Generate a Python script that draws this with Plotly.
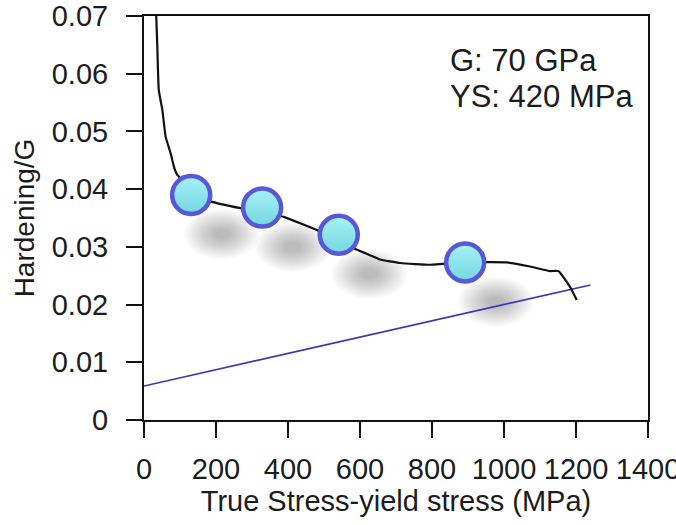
import plotly.graph_objects as go

# ---- data ----
stress = [34, 37, 41, 51, 60, 74, 83, 92, 97, 131, 189, 268, 328, 388, 480, 541,
          592, 638, 656, 712, 795, 892, 1008, 1072, 1128, 1151, 1183, 1202]
hardening = [0.0700, 0.0647, 0.0572, 0.0537, 0.0491, 0.0462, 0.0439, 0.0425, 0.0422,
             0.0395, 0.0378, 0.0367, 0.0360, 0.0352, 0.0329, 0.0310,
             0.0295, 0.0283, 0.0278, 0.0272, 0.0269, 0.0273, 0.0273, 0.0266,
             0.0258, 0.0258, 0.0231, 0.0208]

marker_x = [131, 328, 541, 892]
marker_y = [0.0390, 0.0368, 0.0321, 0.0273]

line_x = [0, 1240]
line_y = [0.0059, 0.0234]

x_ticks = [0, 200, 400, 600, 800, 1000, 1200, 1400]
x_ticktext = ["0", "200", "400", "600", "800", "1000", "1200", "1400"]
y_ticks = [0, 0.01, 0.02, 0.03, 0.04, 0.05, 0.06, 0.07]
y_ticktext = ["0", "0.01", "0.02", "0.03", "0.04", "0.05", "0.06", "0.07"]

note_lines = ["G: 70 GPa", "YS: 420 MPa"]

FONT = "Liberation Sans, Arial, sans-serif"
TXT = "#1c1c1c"

fig = go.Figure()

# soft drop shadows under the markers (stacked translucent ellipses)
shadow_dx, shadow_dy = 85, -0.0068
n_layers = 12
for cx, cy in zip(marker_x, marker_y):
    sx, sy = cx + shadow_dx, cy + shadow_dy
    for i in range(n_layers):
        scale = 1.0 - i * (0.85 / n_layers)
        hw = 105 * scale
        hh = 0.0043 * scale
        fig.add_shape(type="circle", xref="x", yref="y",
                      x0=sx - hw, x1=sx + hw, y0=sy - hh, y1=sy + hh,
                      fillcolor="black", opacity=0.024, line=dict(width=0),
                      layer="below")

fig.add_trace(go.Scatter(x=line_x, y=line_y, mode="lines",
                         line=dict(color="#3b36b8", width=1.6),
                         showlegend=False, hoverinfo="skip"))

fig.add_trace(go.Scatter(x=stress, y=hardening, mode="lines",
                         line=dict(color="#111111", width=2.2, shape="spline", smoothing=0.4),
                         showlegend=False))

fig.add_trace(go.Scatter(x=marker_x, y=marker_y, mode="markers",
                         marker=dict(size=38, color="#a6f3f7",
                                     gradient=dict(type="vertical", color="#74d6df"),
                                     line=dict(color="#5757dc", width=4.5)),
                         showlegend=False))

# note text, one annotation per line (paper coordinates)
note_y = [0.889, 0.801]
for txt, yy in zip(note_lines, note_y):
    fig.add_annotation(xref="paper", yref="paper", x=0.6035, y=yy,
                       xanchor="left", yanchor="middle", align="left", showarrow=False,
                       text=txt, font=dict(family=FONT, size=31, color=TXT))

axis_common = dict(showline=True, linecolor="#111111", linewidth=2,
                   mirror=True, ticks="outside", ticklen=16, tickwidth=2,
                   tickcolor="#111111", showgrid=False, zeroline=False,
                   ticklabeloverflow="allow",
                   tickfont=dict(family=FONT, size=29, color=TXT))

fig.update_xaxes(range=[0, 1400], tickvals=x_ticks, ticktext=x_ticktext,
                 ticklabelstandoff=6,
                 title=dict(text="True Stress-yield stress (MPa)",
                            font=dict(family=FONT, size=29, color=TXT), standoff=0),
                 **axis_common)
fig.update_yaxes(range=[0, 0.07], tickvals=y_ticks, ticktext=y_ticktext,
                 ticklabelstandoff=12,
                 title=dict(text="Hardening/G",
                            font=dict(family=FONT, size=28, color=TXT), standoff=9),
                 **axis_common)

fig.update_layout(width=676, height=525,
                  margin=dict(l=144, r=28, t=16, b=105, autoexpand=False),
                  paper_bgcolor="white", plot_bgcolor="white",
                  font=dict(family=FONT, color=TXT))

fig.write_html("out.html", config={"displayModeBar": False},
               post_script="document.body.style.margin='0px';")
